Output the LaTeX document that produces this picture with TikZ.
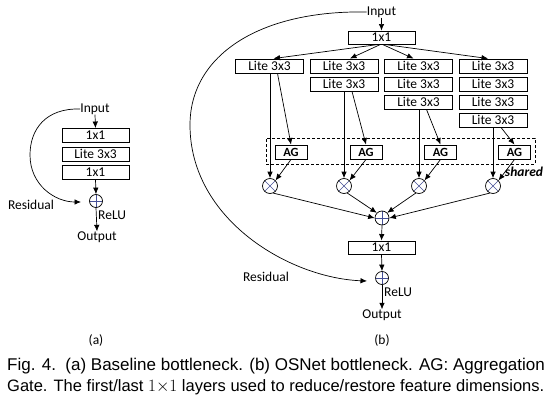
\documentclass[tikz,border=0pt]{standalone}
\usepackage{fontspec}
\setmainfont{Liberation Sans}
\newfontfamily\dfont{Carlito}
\usetikzlibrary{arrows.meta}
\definecolor{symb}{RGB}{70,80,150}
\begin{document}
\begin{tikzpicture}[x=1pt,y=-1pt,
  blk/.style={draw, line width=0.9pt, minimum height=14pt, inner sep=0pt, font=\dfont\fontsize{13.5}{14}\selectfont},
  lbl/.style={inner sep=0pt, font=\dfont\fontsize{13.5}{14}\selectfont},
  arr/.style={-{Latex[length=6.5pt,width=5.5pt]}, line width=0.7pt},
  plusc/.style={circle, draw, minimum size=14pt, inner sep=0pt, line width=0.7pt,
    path picture={\draw[symb, line width=0.5pt] (path picture bounding box.north) -- (path picture bounding box.south)
      (path picture bounding box.west) -- (path picture bounding box.east);}},
  timesc/.style={circle, draw, minimum size=14pt, inner sep=0pt, line width=0.7pt,
    path picture={\draw[symb, line width=0.5pt] (path picture bounding box.north east) -- (path picture bounding box.south west)
      (path picture bounding box.north west) -- (path picture bounding box.south east);}},
  captxt/.style={anchor=base west, inner sep=0pt, font=\fontsize{16.5}{19}\selectfont}
]
\useasboundingbox (0,0) rectangle (553,401);
\clip (0,0) rectangle (553,401);
\fill[white] (0,0) rectangle (553,401);

% ---------- (a) ----------
\node[lbl] (ain) at (95,109) {Input};
\node[blk, minimum width=67pt] (a1) at (95.5,135.5) {1x1};
\node[blk, minimum width=67pt] (a2) at (95.5,154) {Lite 3x3};
\node[blk, minimum width=67pt] (a3) at (95.5,172) {1x1};
\node[plusc, minimum size=13pt] (aplus) at (96,201) {};
\node[lbl] (aout) at (97,237) {Output};
\node[lbl, anchor=west] (arelu) at (98,215) {ReLU};
\node[lbl] (ares) at (31,205) {Residual};
\node[lbl] (acap) at (96,340) {(a)};
\coordinate (aresend) at (81,202);

\draw[arr] (ain.south) -- (a1.north);
\draw[arr] (a3.south) -- (aplus.north);
\draw[arr] (aplus.south) -- (aout.north);
\draw[arr] (ain.west) .. controls (45,108) and (30,130) .. (30,155)
  .. controls (30,185) and (55,202) .. (aresend);

% ---------- (b) ----------
\node[lbl] (bin) at (381.5,12) {Input};
\node[blk, minimum width=67pt, minimum height=13pt] (btop) at (381.5,37.5) {1x1};

\foreach \c/\x in {1/269.5,2/344,3/418.5,4/493}{
  \node[blk, minimum width=68pt] (l\c1) at (\x,66) {Lite 3x3};
}
\foreach \c/\x in {2/344,3/418.5,4/493}{
  \node[blk, minimum width=68pt] (l\c2) at (\x,84) {Lite 3x3};
}
\foreach \c/\x in {3/418.5,4/493}{
  \node[blk, minimum width=68pt] (l\c3) at (\x,102) {Lite 3x3};
}
\node[blk, minimum width=68pt] (l44) at (493,120) {Lite 3x3};

\node[draw, dash pattern=on 3pt off 2pt, line width=0.7pt, minimum width=269pt, minimum height=26pt, inner sep=0pt] (dbox) at (400.5,151) {};

\foreach \c/\x in {1/291,2/366,3/440.5,4/514.5}{
  \node[blk, minimum width=32pt, font=\dfont\bfseries\fontsize{12.5}{13}\selectfont] (ag\c) at (\x,152) {AG};
}
\foreach \c/\x in {1/270,2/344,3/419,4/493}{
  \node[timesc, minimum size=15pt] (m\c) at (\x,186) {};
}
\node[lbl, font=\dfont\bfseries\itshape\fontsize{13.5}{14}\selectfont] (shr) at (524,172) {shared};

\node[plusc, minimum size=14pt] (bsum) at (382,218) {};
\node[blk, minimum width=67pt, minimum height=13pt] (bbot) at (381.5,247.5) {1x1};
\node[plusc, minimum size=13pt] (bplus) at (382,278) {};
\node[lbl] (bout) at (382,315) {Output};
\node[lbl, anchor=west] (brelu) at (384,292) {ReLU};
\node[lbl] (bres) at (266,277) {Residual};
\node[lbl] (bcap) at (382,340) {(b)};
\coordinate (bresend) at (367,281);

\draw[arr] (bin.south) -- (btop.north);
\draw[arr] ([xshift=-3pt]btop.south) -- ([xshift=4pt]l11.north);
\draw[arr] ([xshift=-1pt]btop.south) -- ([xshift=6pt]l21.north);
\draw[arr] ([xshift=1pt]btop.south) -- ([xshift=-5pt]l31.north);
\draw[arr] ([xshift=3pt]btop.south) -- ([xshift=-5pt]l41.north);

% branches
\draw[arr] (l11.south -| m1.north) -- (m1.north);
\draw[arr] (l22.south -| m2.north) -- (m2.north);
\draw[arr] (l33.south -| m3.north) -- (m3.north);
\draw[arr] (l44.south -| m4.north) -- (m4.north);
\draw[arr] ([xshift=8pt]l11.south) -- (ag1.north);
\draw[arr] ([xshift=8pt]l22.south) -- (ag2.north);
\draw[arr] ([xshift=8pt]l33.south) -- (ag3.north);
\draw[arr] ([xshift=8pt]l44.south) -- (ag4.north);
\foreach \c in {1,2,3,4}{
  \draw[arr] (ag\c.south) -- (m\c.north east);
}
\draw[arr] (m1.-65) -- (bsum.west);
\draw[arr] (m2.-65) -- (bsum.135);
\draw[arr] (m3.-115) -- (bsum.45);
\draw[arr] (m4.-115) -- (bsum.east);

\draw[arr] (bsum.south) -- (bbot.north);
\draw[arr] (bbot.south) -- (bplus.north);
\draw[arr] (bplus.south) -- (bout.north);
\draw[arr] (bin.west) .. controls (260,10) and (190,55) .. (190,125)
  .. controls (190,220) and (290,278) .. (bresend);

% ---------- caption ----------
\node[captxt, font=\fontsize{17}{19}\selectfont] (cap1) at (7,370.5) {Fig. 4.\ \ (a) Baseline bottleneck. (b) OSNet bottleneck. AG: Aggregation};
\node[captxt] (cap2) at (7,391) {Gate. The first/last $1{\times}1$ layers used to reduce/restore feature dimensions.};
\end{tikzpicture}
\end{document}
